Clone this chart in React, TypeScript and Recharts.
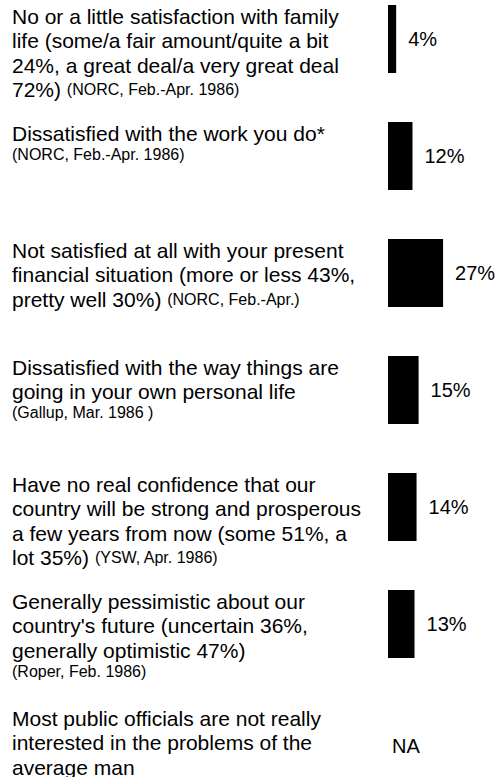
import { BarChart, Bar, XAxis, YAxis, LabelList } from "recharts";

// each line: [main text, small source text]
const questionLines: string[][][] = [
  [
    ["No or a little satisfaction with family"],
    ["life (some/a fair amount/quite a bit"],
    ["24%, a great deal/a very great deal"],
    ["72%) ", "(NORC, Feb.-Apr. 1986)"],
  ],
  [["Dissatisfied with the work you do*"], ["", "(NORC, Feb.-Apr. 1986)"]],
  [
    ["Not satisfied at all with your present"],
    ["financial situation (more or less 43%,"],
    ["pretty well 30%) ", "(NORC, Feb.-Apr.)"],
  ],
  [
    ["Dissatisfied with the way things are"],
    ["going in your own personal life"],
    ["", "(Gallup, Mar. 1986 )"],
  ],
  [
    ["Have no real confidence that our"],
    ["country will be strong and prosperous"],
    ["a few years from now (some 51%, a"],
    ["lot 35%) ", "(YSW, Apr. 1986)"],
  ],
  [
    ["Generally pessimistic about our"],
    ["country's future (uncertain 36%,"],
    ["generally optimistic 47%)"],
    ["", "(Roper, Feb. 1986)"],
  ],
  [
    ["Most public officials are not really"],
    ["interested in the problems of the"],
    ["average man"],
  ],
];

const categories = ["family", "work", "finances", "personal", "confidence", "pessimism", "officials"];
const values: (number | null)[] = [4, 12, 27, 15, 14, 13, null];
const valueLabels = ["4%", "12%", "27%", "15%", "14%", "13%", "NA"];

const data = categories.map((c, i) => ({ name: c, value: values[i], label: valueLabels[i] }));

const FONT = "'Liberation Sans', Arial, Helvetica, sans-serif";
const AXIS_W = 388;

function QuestionTick(props: any) {
  const { y, index } = props;
  const lines = questionLines[index] || [];
  let cy = y - 23;
  return (
    <g>
      {lines.map((ln, i) => {
        const [main, small] = ln;
        if (i > 0) cy += main ? 24.5 : 21;
        return (
          <text key={i} x={12} y={cy} dominantBaseline="central" fontFamily={FONT} fill="#000">
            <tspan fontSize={21}>{main}</tspan>
            {small ? <tspan fontSize={16}>{small}</tspan> : null}
          </text>
        );
      })}
      {/* rows without a value get "NA" at the zero line */}
      {values[index] == null ? (
        <text
          x={AXIS_W + 4}
          y={y + 5}
          dominantBaseline="central"
          fontFamily={FONT}
          fontSize={20}
          fill="#000"
        >
          {valueLabels[index]}
        </text>
      ) : null}
    </g>
  );
}

function ValueLabel(props: any) {
  const { x, y, width, height, index } = props;
  if (values[index] == null) return null;
  return (
    <text
      x={x + width + 12}
      y={y + height / 2}
      dominantBaseline="central"
      fontFamily={FONT}
      fontSize={20}
      fill="#000"
    >
      {valueLabels[index]}
    </text>
  );
}

export default function App() {
  return (
    <div
      style={{
        position: "absolute",
        left: 0,
        top: 0,
        width: 498,
        height: 777,
        overflow: "hidden",
        background: "#fff",
      }}
    >
      <div style={{ marginTop: -20.5 }}>
        <BarChart
          width={498}
          height={819}
          layout="vertical"
          data={data}
          margin={{ top: 0, right: 8, bottom: 0, left: 0 }}
        >
          <XAxis type="number" domain={[0, 50]} hide />
          <YAxis
            type="category"
            dataKey="name"
            width={AXIS_W}
            axisLine={false}
            tickLine={false}
            interval={0}
            tick={<QuestionTick />}
          />
          <Bar dataKey="value" fill="#000" barSize={68} isAnimationActive={false}>
            <LabelList dataKey="label" content={<ValueLabel />} />
          </Bar>
        </BarChart>
      </div>
    </div>
  );
}
